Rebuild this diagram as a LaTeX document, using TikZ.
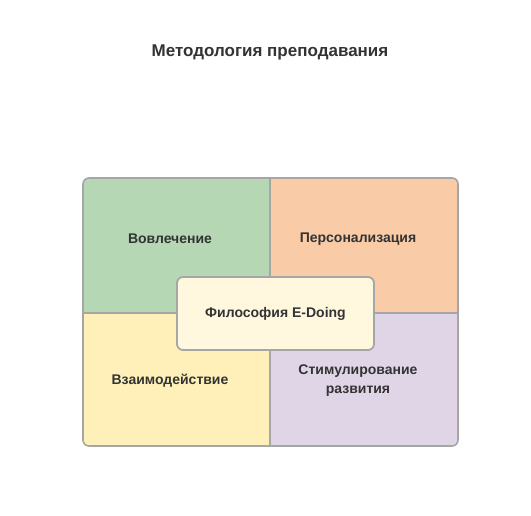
\documentclass[tikz,border=0pt]{standalone}
\usepackage{fontspec}
\setmainfont{Liberation Sans}
\definecolor{cgreen}{HTML}{B5D7B3}
\definecolor{corange}{HTML}{F9CBA7}
\definecolor{cyellow}{HTML}{FFF0B9}
\definecolor{cpurple}{HTML}{E0D5E7}
\definecolor{ccenter}{HTML}{FFF8DF}
\definecolor{cborder}{HTML}{A6A6A6}
\definecolor{ctext}{HTML}{333333}
\tikzset{
  quad/.style={draw=cborder, line width=1.6pt},
  lbl/.style={font=\bfseries\fontsize{14}{19}\selectfont, text=ctext, align=center},
  ttl/.style={font=\bfseries\fontsize{17}{20}\selectfont, text=ctext},
}
\begin{document}
\begin{tikzpicture}[x=1pt,y=-1pt]
\useasboundingbox (0,0) rectangle (531,515);
\fill[white] (0,0) rectangle (531,515);
% quadrants
\begin{scope}
\clip[rounded corners=6pt] (83,178) rectangle (458,446);
\fill[cgreen] (83,178) rectangle (270,313);
\fill[corange] (270,178) rectangle (458,313);
\fill[cyellow] (83,313) rectangle (270,446);
\fill[cpurple] (270,313) rectangle (458,446);
\end{scope}
\draw[quad] (270,178) -- (270,446);
\draw[quad] (83,313) -- (458,313);
\draw[quad, rounded corners=6pt] (83,178) rectangle (458,446);
\node[lbl] (a) at (170,239) {Вовлечение};
\node[lbl] (b) at (358,239) {Персонализация};
\node[lbl] (c) at (170,381) {Взаимодействие};
\node[lbl] (d) at (358,381) {Стимулирование\\развития};
\node[draw=cborder, line width=1.8pt, fill=ccenter, rounded corners=6pt, minimum width=197, minimum height=73, lbl] (e) at (275.5,313.5) {Философия E-Doing};
\node[ttl] (t) at (270,52) {Методология преподавания};
\end{tikzpicture}
\end{document}
